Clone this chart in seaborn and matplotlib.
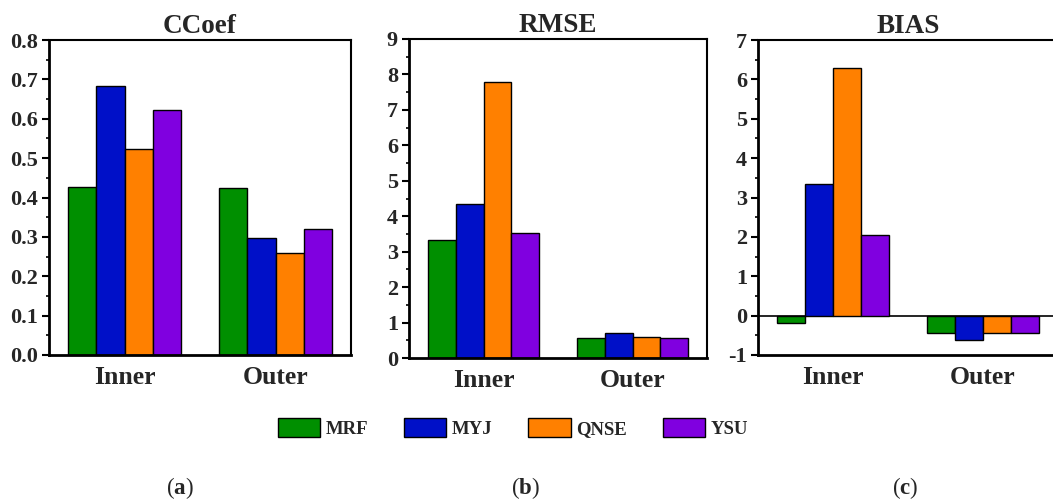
import numpy as np
import pandas as pd
import matplotlib
matplotlib.use("Agg")
import matplotlib.pyplot as plt
from matplotlib.ticker import MultipleLocator, FormatStrFormatter
import seaborn as sns

regions = ["Inner", "Outer"]
schemes = ["MRF", "MYJ", "QNSE", "YSU"]
colors = ["#008F00", "#0010C8", "#FF8000", "#8000E0"]

ccoef_inner = [0.426, 0.683, 0.524, 0.623]
ccoef_outer = [0.423, 0.296, 0.260, 0.321]
rmse_inner = [3.33, 4.34, 7.78, 3.54]
rmse_outer = [0.56, 0.70, 0.58, 0.57]
bias_inner = [-0.19, 3.34, 6.28, 2.06]
bias_outer = [-0.45, -0.61, -0.43, -0.44]

panel_titles = ["CCoef", "RMSE", "BIAS"]
panel_letters = ["a", "b", "c"]

sns.set_theme(style="white")
plt.rcParams["font.family"] = ["Liberation Serif", "DejaVu Serif"]
plt.rcParams["mathtext.fontset"] = "custom"
plt.rcParams["mathtext.rm"] = "Liberation Serif"
plt.rcParams["mathtext.bf"] = "Liberation Serif:bold"

def make_df(inner, outer):
    rows = []
    for reg, vals in zip(regions, [inner, outer]):
        for s, v in zip(schemes, vals):
            rows.append({"region": reg, "scheme": s, "value": v})
    return pd.DataFrame(rows)

data = [make_df(ccoef_inner, ccoef_outer),
        make_df(rmse_inner, rmse_outer),
        make_df(bias_inner, bias_outer)]

W, H = 1053, 500
fig = plt.figure(figsize=(W / 100, H / 100), dpi=100)

# axes boxes in pixels: left, right, top, bottom
boxes = [(49, 351, 40, 355), (409, 707, 39, 358), (758, 1058, 40, 355)]
ylims = [(0, 0.8), (0, 9), (-1, 7)]
majors = [0.1, 1, 1]
minors = [0.05, 0.5, 0.5]
fmts = ["%.1f", "%d", "%d"]

tick_fs = 16
axes = []
for i, (l, r, t, b) in enumerate(boxes):
    ax = fig.add_axes([l / W, 1 - b / H, (r - l) / W, (b - t) / H])
    axes.append(ax)
    sns.barplot(data=data[i], x="region", y="value", hue="scheme",
                hue_order=schemes, palette=colors, width=0.75, saturation=1,
                edgecolor="black", linewidth=1.0, ax=ax, legend=(i == 0))
    ax.set_xlim(-0.5, 1.5)
    ax.set_ylim(*ylims[i])
    ax.yaxis.set_major_locator(MultipleLocator(majors[i]))
    ax.yaxis.set_minor_locator(MultipleLocator(minors[i]))
    ax.yaxis.set_major_formatter(FormatStrFormatter(fmts[i]))
    ax.set_xlabel("")
    ax.set_ylabel("")
    ax.set_title(panel_titles[i], fontsize=19.5, fontweight="bold", pad=5)
    ax.tick_params(axis="y", which="major", direction="out", length=5, width=1.5,
                   left=True, labelsize=tick_fs, pad=3, color="black")
    ax.tick_params(axis="y", which="minor", direction="out", length=2.5, width=1.2,
                   left=True, color="black")
    ax.tick_params(axis="x", length=0, labelsize=18.5, pad=8)
    for lab in ax.get_yticklabels() + ax.get_xticklabels():
        lab.set_fontweight("bold")
    for side, sp in ax.spines.items():
        sp.set_visible(True)
        sp.set_color("black")
        sp.set_linewidth(2.0 if side in ("left", "bottom") else 1.5)
    if ylims[i][0] < 0:
        ax.axhline(0, color="black", linewidth=1.2, zorder=0.5)

handles, labels = axes[0].get_legend_handles_labels()
axes[0].get_legend().remove()
leg = fig.legend(handles, labels, loc="center", ncol=4,
                 bbox_to_anchor=(513 / W, 1 - 428 / H), frameon=False,
                 prop={"size": 13.5, "weight": "bold"},
                 handlelength=2.25, handleheight=1.2, handletextpad=0.3,
                 columnspacing=1.9)

for letter, x in zip(panel_letters, [180, 525, 905]):
    fig.text(x / W, 1 - 488 / H, r"($\mathbf{%s}$)" % letter, ha="center",
             va="center", fontsize=16.5)

fig.savefig("out.png", dpi=100)
